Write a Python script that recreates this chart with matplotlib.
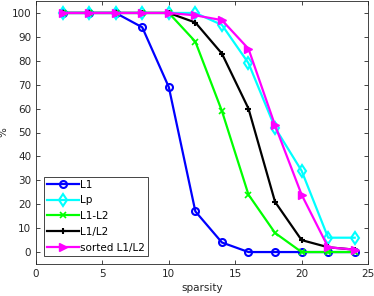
import matplotlib
matplotlib.use("Agg")
import matplotlib.pyplot as plt

sparsity = [2, 4, 6, 8, 10, 12, 14, 16, 18, 20, 22, 24]
l1 = [100, 100, 100, 94, 69, 17, 4, 0, 0, 0, 0, 0]
lp = [100, 100, 100, 100, 100, 100, 95, 79, 52, 34, 6, 6]
l1_minus_l2 = [100, 100, 100, 100, 100, 88, 59, 24, 8, 0, 0, 0]
l1_over_l2 = [100, 100, 100, 100, 100, 96, 83, 60, 21, 5, 2, 1]
sorted_l1_l2 = [100, 100, 100, 100, 100, 99, 97, 85, 53, 24, 2, 1]

plt.rcParams["font.family"] = "DejaVu Sans"
fig = plt.figure(figsize=(3.74, 2.96), dpi=100)
ax = fig.add_axes([36 / 374, 1 - 264 / 296, 332 / 374, 263 / 296])

lw = 1.6
ax.plot(sparsity, l1, color="#0000ff", marker="o", mfc="none", mew=1.5, ms=5, lw=lw, label="L1")
ax.plot(sparsity, lp, color="#00ffff", marker="d", mfc="none", mew=1.5, ms=6, lw=lw, label="Lp")
ax.plot(sparsity, l1_minus_l2, color="#00ff00", marker="x", ms=4, mew=1.2, lw=lw, label="L1-L2")
ax.plot(sparsity, l1_over_l2, color="black", marker="+", ms=5, mew=1.5, lw=lw, label="L1/L2")
ax.plot(sparsity, sorted_l1_l2, color="#ff00ff", marker=">", ms=6, lw=lw, label="sorted L1/L2")

ax.set_xlim(0, 25)
ax.set_ylim(-5, 105)
ax.set_xticks([0, 5, 10, 15, 20, 25])
ax.set_yticks(range(0, 101, 10))
ax.tick_params(direction="in", top=True, right=True, labelsize=7.5, colors="#262626",
               length=3, width=0.6)
for s in ax.spines.values():
    s.set_color("#262626")
    s.set_linewidth(0.6)
ax.set_xlabel("sparsity", fontsize=7.5, color="#262626", labelpad=3)
ax.set_ylabel("%", fontsize=7.5, color="#262626", labelpad=2)

leg = ax.legend(loc="lower left", fontsize=7.5, handlelength=3, handletextpad=0.1,
                labelspacing=0.55, borderpad=0.3, fancybox=False, framealpha=1,
                edgecolor="#262626", borderaxespad=0.8)
leg.get_frame().set_linewidth(0.6)

fig.savefig("out.png", dpi=100)
